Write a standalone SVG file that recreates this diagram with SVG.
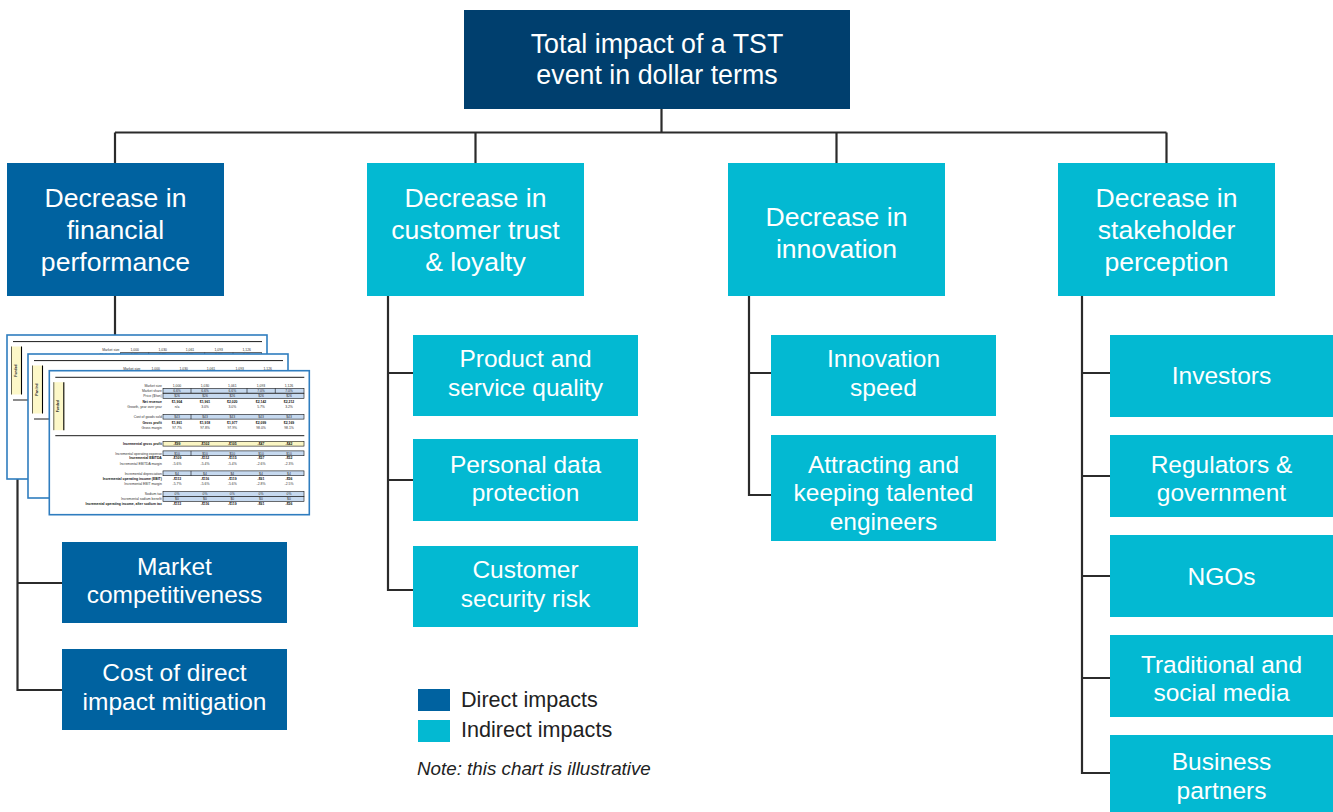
<svg xmlns="http://www.w3.org/2000/svg" xmlns:xlink="http://www.w3.org/1999/xlink" width="1333" height="812" viewBox="0 0 1333 812">
<style>
.top{fill:#003f6e}
.dir{fill:#0062a0}
.ind{fill:#03b9d2}
.t{font-family:"Liberation Sans",Arial,sans-serif;fill:#fff;text-anchor:middle}
.t27{font-size:26.8px}
.t26{font-size:26.6px}
.t24{font-size:24.5px}
.conn{fill:none;stroke:#2b2b2b;stroke-width:2.2}
.leg{font-family:"Liberation Sans",Arial,sans-serif;font-size:21.6px;fill:#222}
.note{font-family:"Liberation Sans",Arial,sans-serif;font-size:18.8px;font-style:italic;fill:#222}
.sl{font-family:"Liberation Sans",Arial,sans-serif;font-size:3.4px;fill:#333;text-anchor:end}
.sv{font-family:"Liberation Sans",Arial,sans-serif;font-size:3.4px;fill:#333;text-anchor:middle}
.b{font-weight:bold;fill:#111}
.hb{fill:#c6d9ef;stroke:#111;stroke-width:0.6}
.hy{fill:#fbf6c4;stroke:#111;stroke-width:0.6}
.rule{stroke:#000;stroke-width:0.9}
</style>
<defs>
<g id="sheet">
<rect x="0" y="0" width="260" height="144" fill="#fff" stroke="#2f7dbf" stroke-width="1.6"/>
<line class="rule" x1="6" y1="6.6" x2="255" y2="6.6"/>
<rect x="4" y="11.5" width="11" height="48" fill="#fdf8c8"/>
<line x1="4.5" y1="11.5" x2="4.5" y2="59.5" stroke="#000" stroke-width="0.6"/>
<line x1="14.5" y1="11.5" x2="14.5" y2="59.5" stroke="#000" stroke-width="1.1"/>
<line class="rule" x1="6" y1="65" x2="255" y2="65"/>
<rect class="hb" x="113.7" y="17.6" width="141" height="4.8"/>
<line x1="141.7" y1="17.6" x2="141.7" y2="22.4" stroke="#111" stroke-width="0.6"/>
<line x1="197.7" y1="17.6" x2="197.7" y2="22.4" stroke="#111" stroke-width="0.6"/>
<line x1="226" y1="17.6" x2="226" y2="22.4" stroke="#111" stroke-width="0.6"/>
<rect class="hb" x="113.7" y="22.9" width="141" height="4.8"/>
<rect class="hb" x="113.7" y="43.6" width="141" height="4.8"/>
<line x1="141.7" y1="43.6" x2="141.7" y2="48.4" stroke="#111" stroke-width="0.6"/>
<rect class="hy" x="113.7" y="70.6" width="141" height="4.8"/>
<rect class="hb" x="113.7" y="80.2" width="141" height="4.8"/>
<line x1="141.7" y1="80.2" x2="141.7" y2="85" stroke="#111" stroke-width="0.6"/>
<rect class="hb" x="113.7" y="100.2" width="141" height="4.8"/>
<line x1="141.7" y1="100.2" x2="141.7" y2="105" stroke="#111" stroke-width="0.6"/>
<rect class="hb" x="113.7" y="120.9" width="141" height="4.8"/>
<rect class="hb" x="113.7" y="125.9" width="141" height="4.8"/>
<g>
<text class="sl" x="112.5" y="15.9">Market size</text>
<text class="sl" x="112.5" y="21.3">Market share</text>
<text class="sl" x="112.5" y="26.6">Price ($/ton)</text>
<text class="sl b" x="112.5" y="32.3">Net revenue</text>
<text class="sl" x="112.5" y="37.3">Growth, year over year</text>
<text class="sl" x="112.5" y="47.3">Cost of goods sold</text>
<text class="sl b" x="112.5" y="52.9">Gross profit</text>
<text class="sl" x="112.5" y="57.9">Gross margin</text>
<text class="sl b" x="112.5" y="74.3">Incremental gross profit</text>
<text class="sl" x="112.5" y="83.9">Incremental operating expense</text>
<text class="sl b" x="112.5" y="88.6">Incremental EBITDA</text>
<text class="sl" x="112.5" y="93.9">Incremental EBITDA margin</text>
<text class="sl" x="112.5" y="103.9">Incremental depreciation</text>
<text class="sl b" x="112.5" y="109.3">Incremental operating income (EBIT)</text>
<text class="sl" x="112.5" y="114.3">Incremental EBIT margin</text>
<text class="sl" x="112.5" y="124.6">Sodium tax</text>
<text class="sl" x="112.5" y="129.6">Incremental sodium benefit</text>
<text class="sl b" x="112.5" y="134.6">Incremental operating income, after sodium tax</text>
</g>
<g>
<text class="sv" y="15.9"><tspan x="127.7">1,000</tspan><tspan x="155.7">1,030</tspan><tspan x="183">1,061</tspan><tspan x="211.7">1,093</tspan><tspan x="239.7">1,126</tspan></text>
<text class="sv" y="21.3"><tspan x="127.7">6.6%</tspan><tspan x="155.7">6.6%</tspan><tspan x="183">6.6%</tspan><tspan x="211.7">7.0%</tspan><tspan x="239.7">7.0%</tspan></text>
<text class="sv" y="26.6"><tspan x="127.7">$26</tspan><tspan x="155.7">$26</tspan><tspan x="183">$26</tspan><tspan x="211.7">$26</tspan><tspan x="239.7">$26</tspan></text>
<text class="sv b" y="32.3"><tspan x="127.7">$1,904</tspan><tspan x="155.7">$1,961</tspan><tspan x="183">$2,020</tspan><tspan x="211.7">$2,142</tspan><tspan x="239.7">$2,212</tspan></text>
<text class="sv" y="37.3"><tspan x="127.7">n/a</tspan><tspan x="155.7">3.0%</tspan><tspan x="183">3.0%</tspan><tspan x="211.7">5.7%</tspan><tspan x="239.7">3.2%</tspan></text>
<text class="sv" y="47.3"><tspan x="127.7">$43</tspan><tspan x="155.7">$43</tspan><tspan x="183">$43</tspan><tspan x="211.7">$43</tspan><tspan x="239.7">$43</tspan></text>
<text class="sv b" y="52.9"><tspan x="127.7">$1,861</tspan><tspan x="155.7">$1,918</tspan><tspan x="183">$1,977</tspan><tspan x="211.7">$2,099</tspan><tspan x="239.7">$2,169</tspan></text>
<text class="sv" y="57.9"><tspan x="127.7">97.7%</tspan><tspan x="155.7">97.8%</tspan><tspan x="183">97.9%</tspan><tspan x="211.7">98.0%</tspan><tspan x="239.7">98.1%</tspan></text>
<text class="sv b" y="74.3"><tspan x="127.7">-$99</tspan><tspan x="155.7">-$102</tspan><tspan x="183">-$105</tspan><tspan x="211.7">-$47</tspan><tspan x="239.7">-$42</tspan></text>
<text class="sv" y="83.9"><tspan x="127.7">$10</tspan><tspan x="155.7">$10</tspan><tspan x="183">$10</tspan><tspan x="211.7">$10</tspan><tspan x="239.7">$10</tspan></text>
<text class="sv b" y="88.6"><tspan x="127.7">-$109</tspan><tspan x="155.7">-$112</tspan><tspan x="183">-$115</tspan><tspan x="211.7">-$57</tspan><tspan x="239.7">-$52</tspan></text>
<text class="sv" y="93.9"><tspan x="127.7">-5.6%</tspan><tspan x="155.7">-5.4%</tspan><tspan x="183">-5.4%</tspan><tspan x="211.7">-2.6%</tspan><tspan x="239.7">-2.3%</tspan></text>
<text class="sv" y="103.9"><tspan x="127.7">$4</tspan><tspan x="155.7">$4</tspan><tspan x="183">$4</tspan><tspan x="211.7">$4</tspan><tspan x="239.7">$4</tspan></text>
<text class="sv b" y="109.3"><tspan x="127.7">-$113</tspan><tspan x="155.7">-$116</tspan><tspan x="183">-$119</tspan><tspan x="211.7">-$61</tspan><tspan x="239.7">-$56</tspan></text>
<text class="sv" y="114.3"><tspan x="127.7">-5.7%</tspan><tspan x="155.7">-5.6%</tspan><tspan x="183">-5.6%</tspan><tspan x="211.7">-2.8%</tspan><tspan x="239.7">-2.5%</tspan></text>
<text class="sv" y="124.6"><tspan x="127.7">0%</tspan><tspan x="155.7">0%</tspan><tspan x="183">0%</tspan><tspan x="211.7">0%</tspan><tspan x="239.7">0%</tspan></text>
<text class="sv" y="129.6"><tspan x="127.7">$0</tspan><tspan x="155.7">$0</tspan><tspan x="183">$0</tspan><tspan x="211.7">$0</tspan><tspan x="239.7">$0</tspan></text>
<text class="sv b" y="134.6"><tspan x="127.7">-$113</tspan><tspan x="155.7">-$116</tspan><tspan x="183">-$119</tspan><tspan x="211.7">-$61</tspan><tspan x="239.7">-$56</tspan></text>
</g>
</g>
</defs>
<rect width="1333" height="812" fill="#fff"/>

<g id="connectors" class="conn">
<path d="M661.5,108.7V132.5"/>
<path d="M115,132.5H1166.5"/>
<path d="M115,132.5V163M475.5,132.5V163M836.5,132.5V163M1166.5,132.5V163"/>
<path d="M115,296V335"/>
<path d="M17.5,478V690H62M17.5,583H62"/>
<path d="M388,296V590H413M388,373H413M388,480H413"/>
<path d="M749,296V495H771M749,373H771"/>
<path d="M1082,296V773H1110M1082,373H1110M1082,476H1110M1082,576H1110M1082,678H1110"/>
</g>

<g id="node-total">
<rect class="top" x="464" y="10" width="386" height="99"/>
<text class="t t27" x="657" y="53">Total impact of a TST</text>
<text class="t t27" x="657" y="84">event in dollar terms</text>
</g>

<g id="node-financial">
<rect class="dir" x="7" y="163" width="217" height="133"/>
<text class="t t26" x="115.5" y="207">Decrease in</text>
<text class="t t26" x="115.5" y="239">financial</text>
<text class="t t26" x="115.5" y="271">performance</text>
</g>

<g id="node-trust">
<rect class="ind" x="367" y="163" width="217" height="133"/>
<text class="t t26" x="475.5" y="207">Decrease in</text>
<text class="t t26" x="475.5" y="239">customer trust</text>
<text class="t t26" x="475.5" y="271">&amp; loyalty</text>
</g>

<g id="node-innovation">
<rect class="ind" x="728" y="163" width="217" height="133"/>
<text class="t t26" x="836.5" y="226">Decrease in</text>
<text class="t t26" x="836.5" y="258">innovation</text>
</g>

<g id="node-stakeholder">
<rect class="ind" x="1058" y="163" width="217" height="133"/>
<text class="t t26" x="1166.5" y="207">Decrease in</text>
<text class="t t26" x="1166.5" y="239">stakeholder</text>
<text class="t t26" x="1166.5" y="271">perception</text>
</g>

<g id="node-spreadsheets">
<use xlink:href="#sheet" href="#sheet" transform="translate(7,335)"/>
<text class="sv b" transform="translate(16.5,370.5) rotate(-90)" font-size="3.4">Funded</text>
<use xlink:href="#sheet" href="#sheet" transform="translate(28,354)"/>
<text class="sv b" transform="translate(37.5,389.5) rotate(-90)" font-size="3.4">Pan Ind</text>
<use xlink:href="#sheet" href="#sheet" transform="translate(49.3,370.7)"/>
<text class="sv b" transform="translate(58.8,406.2) rotate(-90)" font-size="3.4">Funded</text>
</g>

<g id="node-market">
<rect class="dir" x="62" y="542" width="225" height="81"/>
<text class="t t24" x="174.5" y="575">Market</text>
<text class="t t24" x="174.5" y="603">competitiveness</text>
</g>

<g id="node-cost">
<rect class="dir" x="62" y="649" width="225" height="81"/>
<text class="t t24" x="174.5" y="681">Cost of direct</text>
<text class="t t24" x="174.5" y="710">impact mitigation</text>
</g>

<g id="node-quality">
<rect class="ind" x="413" y="335" width="225" height="81"/>
<text class="t t24" x="525.5" y="367">Product and</text>
<text class="t t24" x="525.5" y="396">service quality</text>
</g>

<g id="node-data">
<rect class="ind" x="413" y="439" width="225" height="82"/>
<text class="t t24" x="525.5" y="473">Personal data</text>
<text class="t t24" x="525.5" y="501">protection</text>
</g>

<g id="node-security">
<rect class="ind" x="413" y="546" width="225" height="81"/>
<text class="t t24" x="525.5" y="578">Customer</text>
<text class="t t24" x="525.5" y="607">security risk</text>
</g>

<g id="node-speed">
<rect class="ind" x="771" y="335" width="225" height="81"/>
<text class="t t24" x="883.5" y="367">Innovation</text>
<text class="t t24" x="883.5" y="396">speed</text>
</g>

<g id="node-talent">
<rect class="ind" x="771" y="435" width="225" height="106"/>
<text class="t t24" x="883.5" y="473">Attracting and</text>
<text class="t t24" x="883.5" y="501">keeping talented</text>
<text class="t t24" x="883.5" y="530">engineers</text>
</g>

<g id="node-investors">
<rect class="ind" x="1110" y="335" width="223" height="82"/>
<text class="t t24" x="1221.5" y="384">Investors</text>
</g>

<g id="node-regulators">
<rect class="ind" x="1110" y="435" width="223" height="82"/>
<text class="t t24" x="1221.5" y="473">Regulators &amp;</text>
<text class="t t24" x="1221.5" y="501">government</text>
</g>

<g id="node-ngos">
<rect class="ind" x="1110" y="535" width="223" height="82"/>
<text class="t t24" x="1221.5" y="585">NGOs</text>
</g>

<g id="node-media">
<rect class="ind" x="1110" y="635" width="223" height="82"/>
<text class="t t24" x="1221.5" y="673">Traditional and</text>
<text class="t t24" x="1221.5" y="701">social media</text>
</g>

<g id="node-partners">
<rect class="ind" x="1110" y="735" width="223" height="77"/>
<text class="t t24" x="1221.5" y="770">Business</text>
<text class="t t24" x="1221.5" y="799">partners</text>
</g>

<g id="legend">
<rect class="dir" x="418" y="689" width="32" height="22"/>
<text class="leg" x="461" y="707">Direct impacts</text>
<rect class="ind" x="418" y="720" width="32" height="22"/>
<text class="leg" x="461" y="737">Indirect impacts</text>
<text class="note" x="417" y="775">Note: this chart is illustrative</text>
</g>
</svg>
